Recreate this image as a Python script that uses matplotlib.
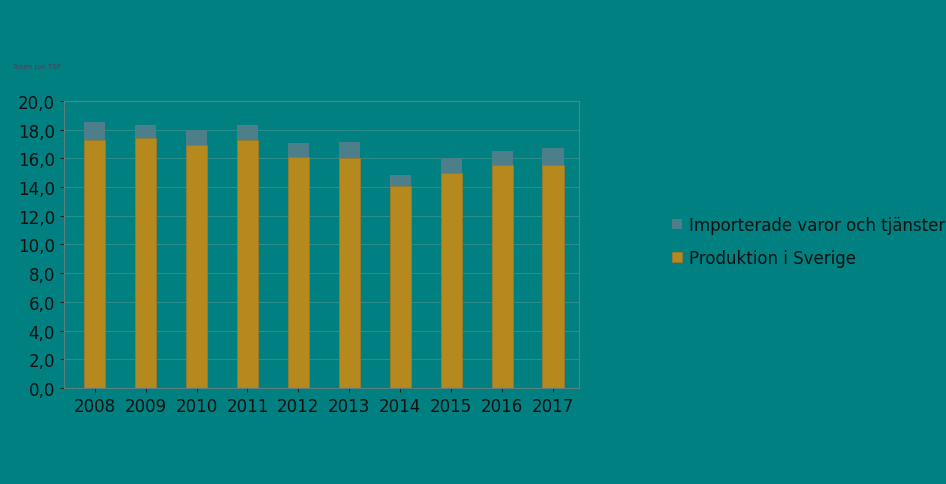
import matplotlib
matplotlib.use("Agg")
import matplotlib.pyplot as plt
import numpy as np

years = ["2008","2009","2010","2011","2012","2013","2014","2015","2016","2017"]
produktion = [17.3, 17.4, 16.9, 17.3, 16.1, 16.0, 14.1, 15.0, 15.5, 15.5]
import_ = [1.2, 0.9, 1.05, 1.05, 0.95, 1.1, 0.75, 1.0, 1.0, 1.2]

bg = "#008080"
fig = plt.figure(figsize=(9.46, 4.85), dpi=100, facecolor=bg)
ax = fig.add_axes([0.0677, 0.198, 0.544, 0.592], facecolor=bg)
x = np.arange(len(years))
b1 = ax.bar(x, produktion, width=0.42, color="#B5891E", edgecolor="#9a7a30", linewidth=0.6, label="Produktion i Sverige")
b2 = ax.bar(x, import_, bottom=produktion, width=0.42, color="#4C7F8A", label="Importerade varor och tjänster")
ax.set_ylim(0, 20)
ax.set_xlim(-0.6, 9.5)
ax.set_yticks(np.arange(0, 20.1, 2))
ax.set_yticklabels([f"{v:.1f}".replace(".", ",") for v in np.arange(0, 20.1, 2)])
ax.set_xticks(x)
ax.set_xticklabels(years)
ax.tick_params(labelsize=12, colors="#222222", length=3)
for lab in ax.get_xticklabels() + ax.get_yticklabels():
    lab.set_color("#111111")
ax.yaxis.grid(True, color="#2a8f8a", linewidth=0.8)
ax.set_axisbelow(True)
for s in ax.spines.values():
    s.set_color("#5a8080")
ax.spines["top"].set_color("#6a7a80")
fig.text(0.013, 0.858, "Tusen ton TSP", fontsize=5, color="#444466")
leg = fig.legend([b2, b1], ["Importerade varor och tjänster", "Produktion i Sverige"],
                 loc="center left", bbox_to_anchor=(0.695, 0.5), frameon=False,
                 fontsize=12, handlelength=0.6, handleheight=0.6, handletextpad=0.4,
                 labelspacing=0.9)
for t in leg.get_texts():
    t.set_color("#111111")
fig.savefig("out.png", facecolor=bg)
